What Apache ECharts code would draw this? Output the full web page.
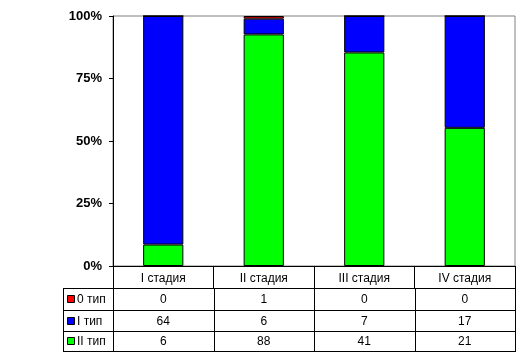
<!DOCTYPE html>
<html><head><meta charset="utf-8">
<script src="https://cdn.jsdelivr.net/npm/echarts@6/dist/echarts.min.js"></script>
<style>html,body{margin:0;padding:0;background:#fff}#c{width:520px;height:356px}</style>
</head><body><div id="c"></div>
<script>
const categories = ['I стадия', 'II стадия', 'III стадия', 'IV стадия'];
const seriesNames = ['0 тип', 'I тип', 'II тип'];
const type0 = [0, 1, 0, 0];
const type1 = [64, 6, 7, 17];
const type2 = [6, 88, 41, 21];
const yTicks = [0, 25, 50, 75, 100];
const colors = ['#ff0000', '#0000ff', '#00ff00'];

const rows = [type0, type1, type2];
const totals = categories.map((_, i) => type0[i] + type1[i] + type2[i]);
const pct = arr => arr.map((v, i) => v / totals[i] * 100);

const FONT = '"Liberation Sans", Arial, sans-serif';
const chart = echarts.init(document.getElementById('c'), null, {renderer: 'canvas'});

const option = {
  animation: false,
  backgroundColor: '#fff',
  grid: {left: 113, right: 5, top: 16, bottom: 90, show: true, borderColor: '#808080', borderWidth: 1, backgroundColor: 'transparent'},
  xAxis: {
    type: 'category', data: categories,
    axisLine: {show: true, lineStyle: {color: '#000', width: 1}},
    axisTick: {show: true, inside: false, length: 22, lineStyle: {color: '#000'}},
    axisLabel: {color: '#000', fontFamily: FONT, fontSize: 12, margin: 7}
  },
  yAxis: {
    type: 'value', min: yTicks[0], max: yTicks[yTicks.length - 1], interval: 25,
    axisLine: {show: true, lineStyle: {color: '#000', width: 1}},
    axisTick: {show: true, length: 4, lineStyle: {color: '#000'}},
    splitLine: {show: false},
    axisLabel: {formatter: '{value}%', color: '#000', fontFamily: FONT, fontSize: 13, fontWeight: 'bold', margin: 11}
  },
  series: [
    {name: seriesNames[2], type: 'bar', stack: 's', data: pct(type2), barWidth: '40%', itemStyle: {color: colors[2], borderColor: '#000', borderWidth: 1}},
    {name: seriesNames[1], type: 'bar', stack: 's', data: pct(type1), barWidth: '40%', itemStyle: {color: colors[1], borderColor: '#000', borderWidth: 1}},
    {name: seriesNames[0], type: 'bar', stack: 's', data: pct(type0), barWidth: '40%', itemStyle: {color: colors[0], borderColor: '#000', borderWidth: 1}}
  ]
};
chart.setOption(option);

// Data table below the plot
const x0 = chart.convertToPixel({xAxisIndex: 0}, 0);
const x1 = chart.convertToPixel({xAxisIndex: 0}, 1);
const band = x1 - x0;
const plotRight = Math.round(chart.convertToPixel({xAxisIndex: 0}, categories.length - 1) + band / 2);
const axisY = Math.round(chart.convertToPixel({yAxisIndex: 0}, 0));
const tableLeft = 63;
const rowLines = [axisY + 22, axisY + 44, axisY + 65, axisY + 85];
const g = [];
const line = (xa, ya, xb, yb) => g.push({type: 'line', shape: {x1: xa, y1: ya, x2: xb, y2: yb}, style: {stroke: '#000', lineWidth: 1}, silent: true});
rowLines.forEach(y => line(tableLeft, y + 0.5, plotRight + 0.5, y + 0.5));
line(tableLeft + 0.5, rowLines[0], tableLeft + 0.5, rowLines[3] + 1);
for (let i = 0; i <= categories.length; i++) {
  const x = Math.round(x0 - band / 2 + i * band) + 0.5;
  line(x, rowLines[0], x, rowLines[3] + 1);
}
rows.forEach((arr, r) => {
  const yc = (rowLines[r] + rowLines[r + 1]) / 2 + 1;
  g.push({type: 'rect', shape: {x: tableLeft + 4.5, y: Math.round(yc) - 4.5, width: 7, height: 7}, style: {fill: colors[r], stroke: '#000', lineWidth: 1}, silent: true});
  g.push({type: 'text', x: tableLeft + 14, y: yc, style: {text: seriesNames[r], font: '12px ' + FONT, fill: '#000', textVerticalAlign: 'middle', verticalAlign: 'middle'}, silent: true});
  arr.forEach((v, i) => {
    const cx = chart.convertToPixel({xAxisIndex: 0}, i);
    g.push({type: 'text', x: cx, y: yc, style: {text: String(v), font: '12px ' + FONT, fill: '#000', textAlign: 'center', align: 'center', textVerticalAlign: 'middle', verticalAlign: 'middle'}, silent: true});
  });
});
chart.setOption({graphic: g});
</script>
</body></html>
